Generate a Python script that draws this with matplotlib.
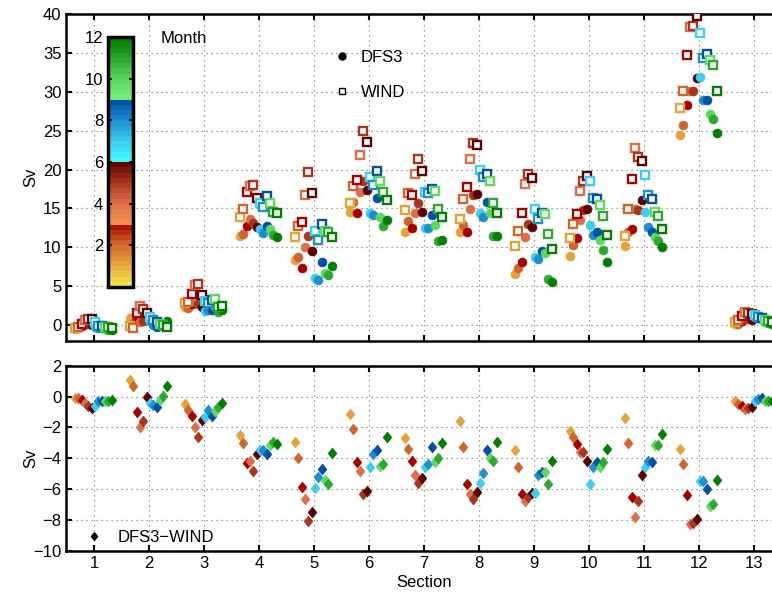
import numpy as np
import matplotlib
matplotlib.use('Agg')
import matplotlib.pyplot as plt
from matplotlib.colors import LinearSegmentedColormap, Normalize
from matplotlib.cm import ScalarMappable
from matplotlib.lines import Line2D

plt.rcParams['font.family'] = ['Liberation Sans', 'DejaVu Sans']

sections = np.arange(1, 14)
months = np.arange(1, 13)

# rows: section 1..13, columns: month 1..12 (Sv)
dfs3 = np.array([
    [-0.5, -0.4, -0.1, 0.2, 0.2, 0.0, -0.2, -0.4, -0.4, -0.5, -0.6, -0.6],
    [0.95, 0.3, 0.6, 0.45, 0.5, 1.45, 0.55, 0.05, -0.25, 0.0, 0.05, 0.5],
    [2.35, 2.15, 2.75, 3.15, 2.65, 2.35, 1.75, 1.95, 1.95, 2.45, 1.65, 2.0],
    [11.45, 11.7, 12.7, 13.7, 13.1, 12.55, 12.3, 11.8, 12.7, 12.4, 11.6, 11.35],
    [8.35, 8.8, 7.35, 10.1, 11.5, 9.5, 6.1, 5.8, 8.1, 6.7, 6.4, 7.65],
    [14.6, 15.8, 14.35, 17.1, 18.55, 17.35, 14.35, 14.2, 16.4, 13.9, 12.7, 13.5],
    [11.95, 13.4, 12.45, 14.35, 15.75, 14.5, 12.45, 12.45, 14.2, 12.9, 10.8, 11.0],
    [11.95, 12.9, 11.95, 14.95, 16.75, 16.85, 14.35, 13.9, 15.8, 14.45, 11.45, 11.5],
    [6.6, 7.4, 8.1, 11.35, 12.95, 12.55, 8.7, 8.5, 9.55, 9.3, 5.95, 5.6],
    [8.85, 10.3, 11.2, 13.5, 14.85, 14.95, 12.9, 11.6, 11.95, 11.0, 9.7, 8.1],
    [10.15, 11.95, 12.4, 14.95, 14.85, 16.05, 14.6, 12.65, 11.95, 11.35, 10.85, 10.0],
    [24.5, 25.7, 28.25, 30.15, 30.15, 31.8, 31.95, 28.9, 28.9, 27.1, 26.55, 24.7],
    [0.1, 0.1, 0.55, 0.9, 0.75, 0.7, 1.0, 0.95, 0.8, 0.35, 0.25, 0.1],
])

wind = np.array([
    [-0.4, -0.3, 0.1, 0.6, 0.8, 0.75, 0.4, -0.1, -0.1, -0.2, -0.3, -0.4],
    [-0.1, -0.4, 1.6, 2.4, 2.1, 1.5, 1.0, 0.6, 0.4, 0.2, 0.0, -0.2],
    [2.8, 3.0, 4.0, 5.1, 5.25, 3.85, 3.1, 2.85, 3.2, 3.4, 2.35, 2.45],
    [13.9, 14.9, 17.15, 17.9, 18.0, 16.3, 15.7, 15.2, 16.6, 15.65, 14.6, 14.45],
    [11.3, 12.8, 13.25, 16.7, 19.7, 17.0, 12.1, 11.0, 12.95, 12.1, 12.0, 11.3],
    [15.65, 17.9, 18.65, 21.9, 24.9, 23.5, 19.1, 18.05, 19.85, 18.5, 17.15, 16.1],
    [14.8, 16.95, 16.7, 19.4, 21.4, 19.75, 17.1, 16.95, 17.45, 17.2, 14.95, 13.9],
    [13.6, 16.15, 17.7, 21.35, 23.45, 23.15, 19.95, 19.0, 19.4, 18.55, 15.7, 14.45],
    [10.15, 12.1, 14.35, 18.15, 19.4, 18.9, 14.95, 13.6, 14.45, 14.25, 11.7, 9.8],
    [11.2, 12.95, 14.25, 17.25, 18.55, 19.15, 18.55, 16.35, 16.25, 15.45, 14.0, 11.6],
    [11.5, 14.95, 18.8, 22.75, 21.65, 21.15, 19.25, 16.75, 16.15, 14.5, 14.0, 12.4],
    [27.95, 30.15, 34.7, 38.3, 38.4, 39.75, 37.5, 34.35, 34.85, 34.1, 33.4, 30.1],
    [0.4, 0.6, 1.15, 1.7, 1.5, 1.4, 1.3, 1.1, 0.9, 0.65, 0.55, 0.4],
])

diff = np.array([
    [-0.1, -0.1, -0.2, -0.4, -0.6, -0.75, -0.6, -0.3, -0.3, -0.3, -0.3, -0.2],
    [1.07, 0.7, -1.0, -1.95, -1.6, -0.05, -0.45, -0.55, -0.65, -0.2, 0.05, 0.7],
    [-0.47, -0.85, -1.25, -1.95, -2.6, -1.5, -1.35, -0.9, -1.25, -0.95, -0.7, -0.45],
    [-2.47, -3.0, -4.3, -4.15, -4.8, -3.75, -3.5, -3.45, -3.7, -3.15, -2.95, -3.05],
    [-2.95, -4.0, -5.9, -6.65, -8.1, -7.5, -5.95, -5.2, -4.7, -5.4, -5.65, -3.65],
    [-1.15, -2.1, -4.25, -4.8, -6.35, -6.1, -4.6, -3.75, -3.45, -4.5, -4.35, -2.6],
    [-2.7, -3.4, -4.2, -5.1, -5.6, -5.3, -4.6, -4.4, -3.3, -4.25, -4.0, -3.0],
    [-1.6, -3.25, -5.65, -6.35, -6.65, -6.2, -5.6, -4.95, -3.5, -4.0, -4.2, -2.95],
    [-3.5, -4.6, -6.3, -6.75, -6.5, -6.25, -6.25, -5.1, -4.9, -4.9, -5.7, -4.15],
    [-2.25, -2.6, -3.1, -3.6, -3.6, -4.2, -5.7, -4.6, -4.25, -4.6, -4.25, -3.4],
    [-1.4, -3.0, -6.5, -7.8, -6.75, -5.1, -4.6, -4.15, -4.25, -3.15, -3.15, -2.45],
    [-3.4, -4.4, -6.4, -8.3, -8.2, -7.95, -5.5, -5.5, -6.0, -7.1, -6.95, -5.4],
    [-0.3, -0.5, -0.6, -0.8, -0.75, -0.7, -0.3, -0.15, -0.1, -0.3, -0.3, -0.3],
])

# colours: lightest shade of each season + one colour per month
season_base = ['#F2E64A', '#F29050', '#40FFFF', '#80F080']
month_colors = ['#E3A33A', '#CF652A', '#A80000',
                '#DD6E4A', '#A8361E', '#5E0000',
                '#3CCFEF', '#1E8ECF', '#0050AA',
                '#5ED85E', '#2EA82E', '#007F00']

# piecewise colormap with jumps at months 3, 6, 9
stops = []
for g in range(4):
    lo = g / 4.0
    stops.append((lo + 1e-4 if g else 0.0, season_base[g]))
    for k in range(3):
        stops.append((lo + (k + 1) / 12.0 - (1e-4 if k == 2 and g < 3 else 0), month_colors[3 * g + k]))
stops[-1] = (1.0, month_colors[-1])
cmap = LinearSegmentedColormap.from_list('month', stops, N=48)

offsets = np.linspace(-0.345, 0.32, 12)

fig = plt.figure(figsize=(7.72, 5.96), dpi=100)
ax1 = fig.add_axes([0.0861, 0.4285, 0.9262, 0.548])
ax2 = fig.add_axes([0.0861, 0.076, 0.9262, 0.3104])

for i, m in enumerate(months):
    x = sections + offsets[i]
    ax1.plot(x, dfs3[:, i], 'o', ms=6.4, color=month_colors[i], mec=month_colors[i], mew=0.5, zorder=3)
for i, m in enumerate(months):
    x = sections + offsets[i]
    ax1.plot(x, wind[:, i], 's', ms=5.6, mfc='white', mec=month_colors[i], mew=1.7, zorder=4)

diamond = [(0, 1), (0.8, 0), (0, -1), (-0.8, 0), (0, 1)]
for i, m in enumerate(months):
    x = sections + offsets[i]
    ax2.plot(x, diff[:, i], marker=diamond, ls='none', ms=7.8, color=month_colors[i],
             mec=month_colors[i], mew=0.5, zorder=3)

for ax in (ax1, ax2):
    ax.set_xlim(0.5, 13.5)
    ax.set_xticks(sections)
    ax.grid(True, color='0.5', linestyle=(0, (1, 3)), linewidth=0.9)
    ax.tick_params(direction='in', top=True, right=True, labelsize=12, length=4, width=1.5)
    for s in ax.spines.values():
        s.set_linewidth(1.8)
    ax.set_ylabel('Sv', fontsize=12)

ax1.set_ylim(-2, 40)
ax1.set_yticks(np.arange(0, 41, 5))
ax1.set_xticklabels([])
ax1.yaxis.set_label_coords(-0.04, 0.5)

ax2.set_ylim(-10, 2)
ax2.set_yticks(np.arange(-10, 3, 2))
ax2.set_xlabel('Section', fontsize=12, labelpad=3)
ax2.yaxis.set_label_coords(-0.04, 0.5)

h1 = [Line2D([], [], marker='o', ls='none', color='k', ms=5),
      Line2D([], [], marker='s', ls='none', mfc='white', mec='k', ms=5, mew=1)]
ax1.legend(h1, ['DFS3', 'WIND'], loc='upper left', bbox_to_anchor=(0.353, 0.935),
           frameon=False, fontsize=12, handlelength=1.0, labelspacing=1.2, handletextpad=0.6)

h2 = [Line2D([], [], marker=diamond, ls='none', color='k', ms=5.5)]
ax2.legend(h2, ['DFS3\u2212WIND'], loc='lower left', bbox_to_anchor=(0.006, -0.05),
           frameon=False, fontsize=12, handlelength=1.0, handletextpad=0.9)

cax = fig.add_axes([0.14, 0.5185, 0.0324, 0.419])
cb = fig.colorbar(ScalarMappable(norm=Normalize(0, 12), cmap=cmap), cax=cax)
cb.set_ticks([2, 4, 6, 8, 10, 12])
cb.ax.yaxis.set_ticks_position('both')
cb.ax.tick_params(direction='in', labelleft=True, labelright=False, labelsize=12, length=3, width=1.2)
cb.outline.set_linewidth(2.5)
fig.text(0.208, 0.928, 'Month', fontsize=12)

plt.savefig('out.png', dpi=100)
